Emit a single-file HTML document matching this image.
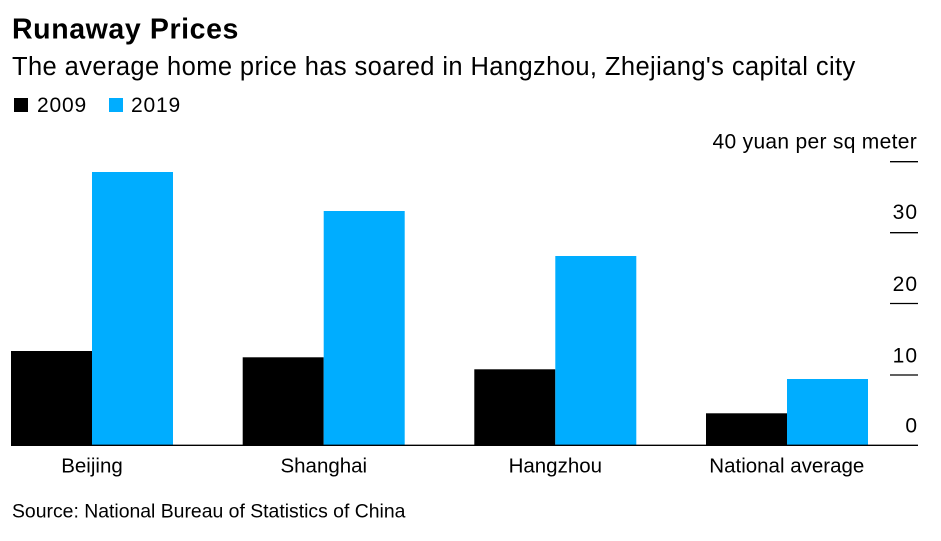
<!DOCTYPE html>
<html><head><meta charset="utf-8"><style>
html,body{margin:0;padding:0;background:#fff;}
svg{display:block;}
text{font-family:"Liberation Sans",Arial,sans-serif;fill:#000;}
</style></head><body>
<svg width="941" height="541" viewBox="0 0 941 541" xmlns="http://www.w3.org/2000/svg">
<text x="12" y="38.3" font-size="28.5" font-weight="bold" letter-spacing="0.6">Runaway Prices</text>
<text x="12" y="75" font-size="25.5" letter-spacing="0.4">The average home price has soared in Hangzhou, Zhejiang's capital city</text>
<rect x="14" y="98" width="14" height="14" fill="#000"/>
<text x="37" y="112" font-size="21" letter-spacing="0.8">2009</text>
<rect x="109" y="98" width="14" height="14" fill="#00adff"/>
<text x="131" y="112" font-size="21" letter-spacing="0.8">2019</text>
<!-- axis -->
<text x="917" y="148.3" font-size="21" text-anchor="end" letter-spacing="0.3">40 yuan per sq meter</text>
<text x="918" y="219" font-size="21" text-anchor="end" letter-spacing="1">30</text>
<text x="918" y="291" font-size="21" text-anchor="end" letter-spacing="1">20</text>
<text x="918" y="362.3" font-size="21" text-anchor="end" letter-spacing="1">10</text>
<text x="918" y="432.3" font-size="21" text-anchor="end" letter-spacing="1">0</text>
<g stroke="#000" stroke-width="1.3">
<line x1="890" y1="161.7" x2="918" y2="161.7"/>
<line x1="890" y1="232.7" x2="918" y2="232.7"/>
<line x1="890" y1="303.5" x2="918" y2="303.5"/>
<line x1="890" y1="375" x2="918" y2="375"/>
</g>
<!-- bars -->
<rect x="11" y="351" width="81" height="94" fill="#000"/>
<rect x="92" y="172" width="81" height="273" fill="#00adff"/>
<rect x="242.7" y="357.3" width="81" height="87.7" fill="#000"/>
<rect x="323.7" y="211" width="81" height="234" fill="#00adff"/>
<rect x="474.3" y="369.3" width="81" height="75.7" fill="#000"/>
<rect x="555.3" y="256" width="81" height="189" fill="#00adff"/>
<rect x="706" y="413.3" width="81" height="31.7" fill="#000"/>
<rect x="787" y="379" width="81" height="66" fill="#00adff"/>
<line x1="11" y1="445.3" x2="918" y2="445.3" stroke="#000" stroke-width="1.3"/>
<!-- categories -->
<text x="92" y="472.7" font-size="20.5" text-anchor="middle">Beijing</text>
<text x="323.8" y="472.7" font-size="20.5" text-anchor="middle">Shanghai</text>
<text x="555.3" y="472.7" font-size="20.5" text-anchor="middle">Hangzhou</text>
<text x="786.8" y="472.7" font-size="20.5" text-anchor="middle">National average</text>
<text x="12" y="517.7" font-size="19.4">Source: National Bureau of Statistics of China</text>
</svg>
</body></html>
